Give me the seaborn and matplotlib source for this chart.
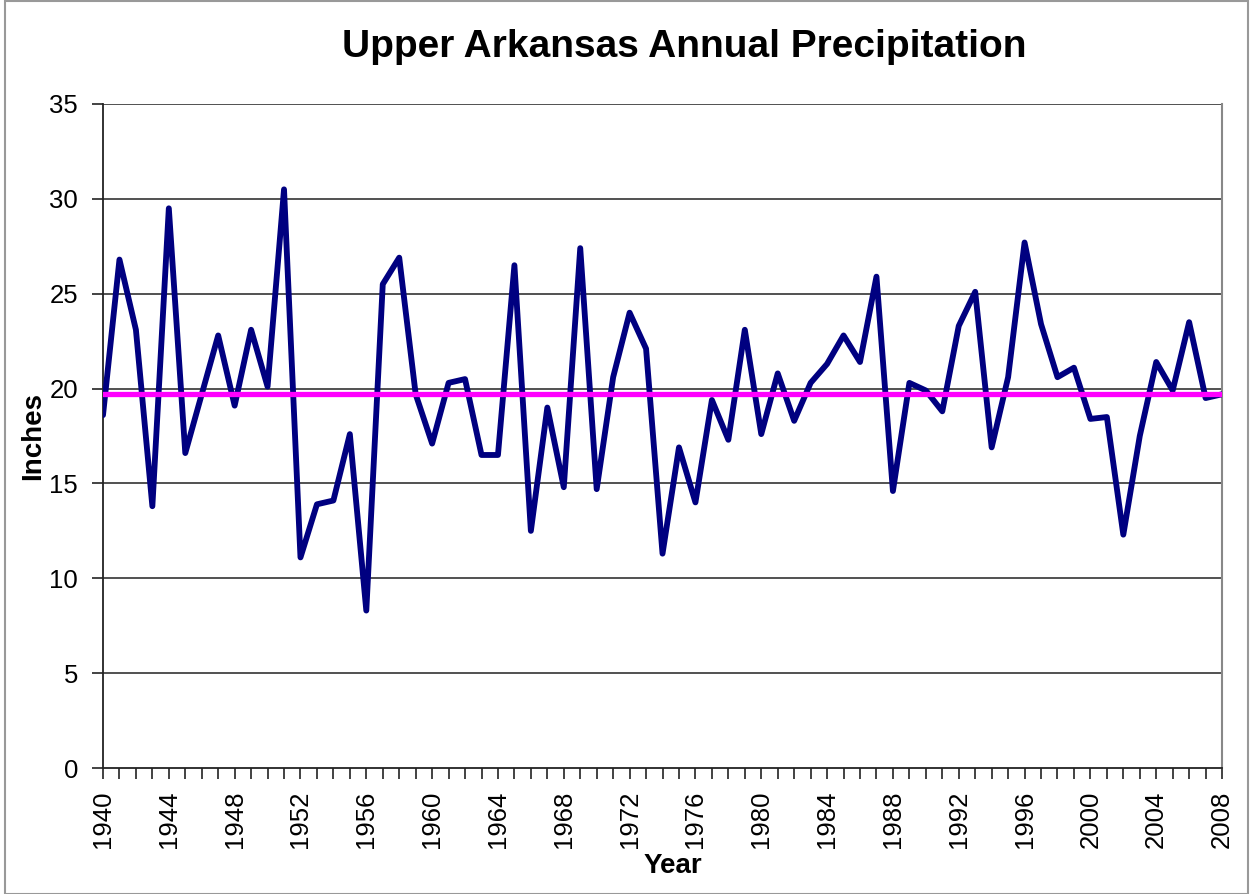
import numpy as np
import pandas as pd
import matplotlib
matplotlib.use("Agg")
import matplotlib.pyplot as plt
import seaborn as sns
from matplotlib.patches import Rectangle

years = list(range(1940, 2009))
precip = [18.6, 26.8, 23.1, 13.8, 29.5, 16.6, 19.7, 22.8, 19.1, 23.1,
          20.1, 30.5, 11.1, 13.9, 14.1, 17.6, 8.3, 25.5, 26.9, 19.7,
          17.1, 20.3, 20.5, 16.5, 16.5, 26.5, 12.5, 19.0, 14.8, 27.4,
          14.7, 20.6, 24.0, 22.1, 11.3, 16.9, 14.0, 19.4, 17.3, 23.1,
          17.6, 20.8, 18.3, 20.3, 21.3, 22.8, 21.4, 25.9, 14.6, 20.3,
          19.9, 18.8, 23.3, 25.1, 16.9, 20.6, 27.7, 23.4, 20.6, 21.1,
          18.4, 18.5, 12.3, 17.5, 21.4, 19.9, 23.5, 19.5, 19.7]
average = 19.7
y_ticks = [0, 5, 10, 15, 20, 25, 30, 35]
x_ticks = list(range(1940, 2009, 4))

df = pd.DataFrame({"Year": years, "Inches": precip})

sns.set_style("white")
plt.rcParams["font.family"] = ["Liberation Sans", "DejaVu Sans"]
plt.rcParams["text.color"] = "black"
plt.rcParams["axes.labelcolor"] = "black"
plt.rcParams["xtick.color"] = "black"
plt.rcParams["ytick.color"] = "black"

fig = plt.figure(figsize=(12.53, 8.94), dpi=100)
ax = fig.add_axes([0.0822, 0.1409, 0.8931, 0.7428])

for t in y_ticks[1:]:
    ax.axhline(t, color="#222222", lw=1.1, zorder=1)

sns.lineplot(data=df, x="Year", y="Inches", color="#000080", lw=4.2, ax=ax, zorder=3)
ax.axhline(average, color="#FF00FF", lw=3.8, zorder=4)

ax.set_xlim(1940, 2008)
ax.set_ylim(0, 35)
ax.set_yticks(y_ticks)
ax.set_xticks(x_ticks)
ax.set_xticks(years, minor=True)
ax.set_xticklabels([str(x) for x in x_ticks], rotation=90)
ax.tick_params(axis="both", which="both", direction="out", length=8, width=1.2,
               color="#222222", labelsize=18.5, bottom=True, left=True)
ax.tick_params(axis="x", pad=8)
ax.tick_params(axis="y", pad=10)

for side in ["left", "bottom"]:
    ax.spines[side].set_color("#222222")
    ax.spines[side].set_linewidth(1.3)
ax.spines["right"].set_color("#888888")
ax.spines["right"].set_linewidth(1.5)
ax.spines["top"].set_visible(False)

ax.set_xlabel("Year", fontsize=20, fontweight="bold")
ax.xaxis.set_label_coords(0.509, -0.128)
ax.set_ylabel("Inches", fontsize=20, fontweight="bold")
ax.yaxis.set_label_coords(-0.051, 0.5)
fig.text(0.546, 0.936, "Upper Arkansas Annual Precipitation", fontsize=28,
         fontweight="bold", ha="center", va="baseline")

fig.patches.append(Rectangle((0.004, 0.0), 0.992, 0.999, transform=fig.transFigure,
                             fill=False, edgecolor="#999999", lw=1.5))

fig.savefig("out.png", dpi=100)
